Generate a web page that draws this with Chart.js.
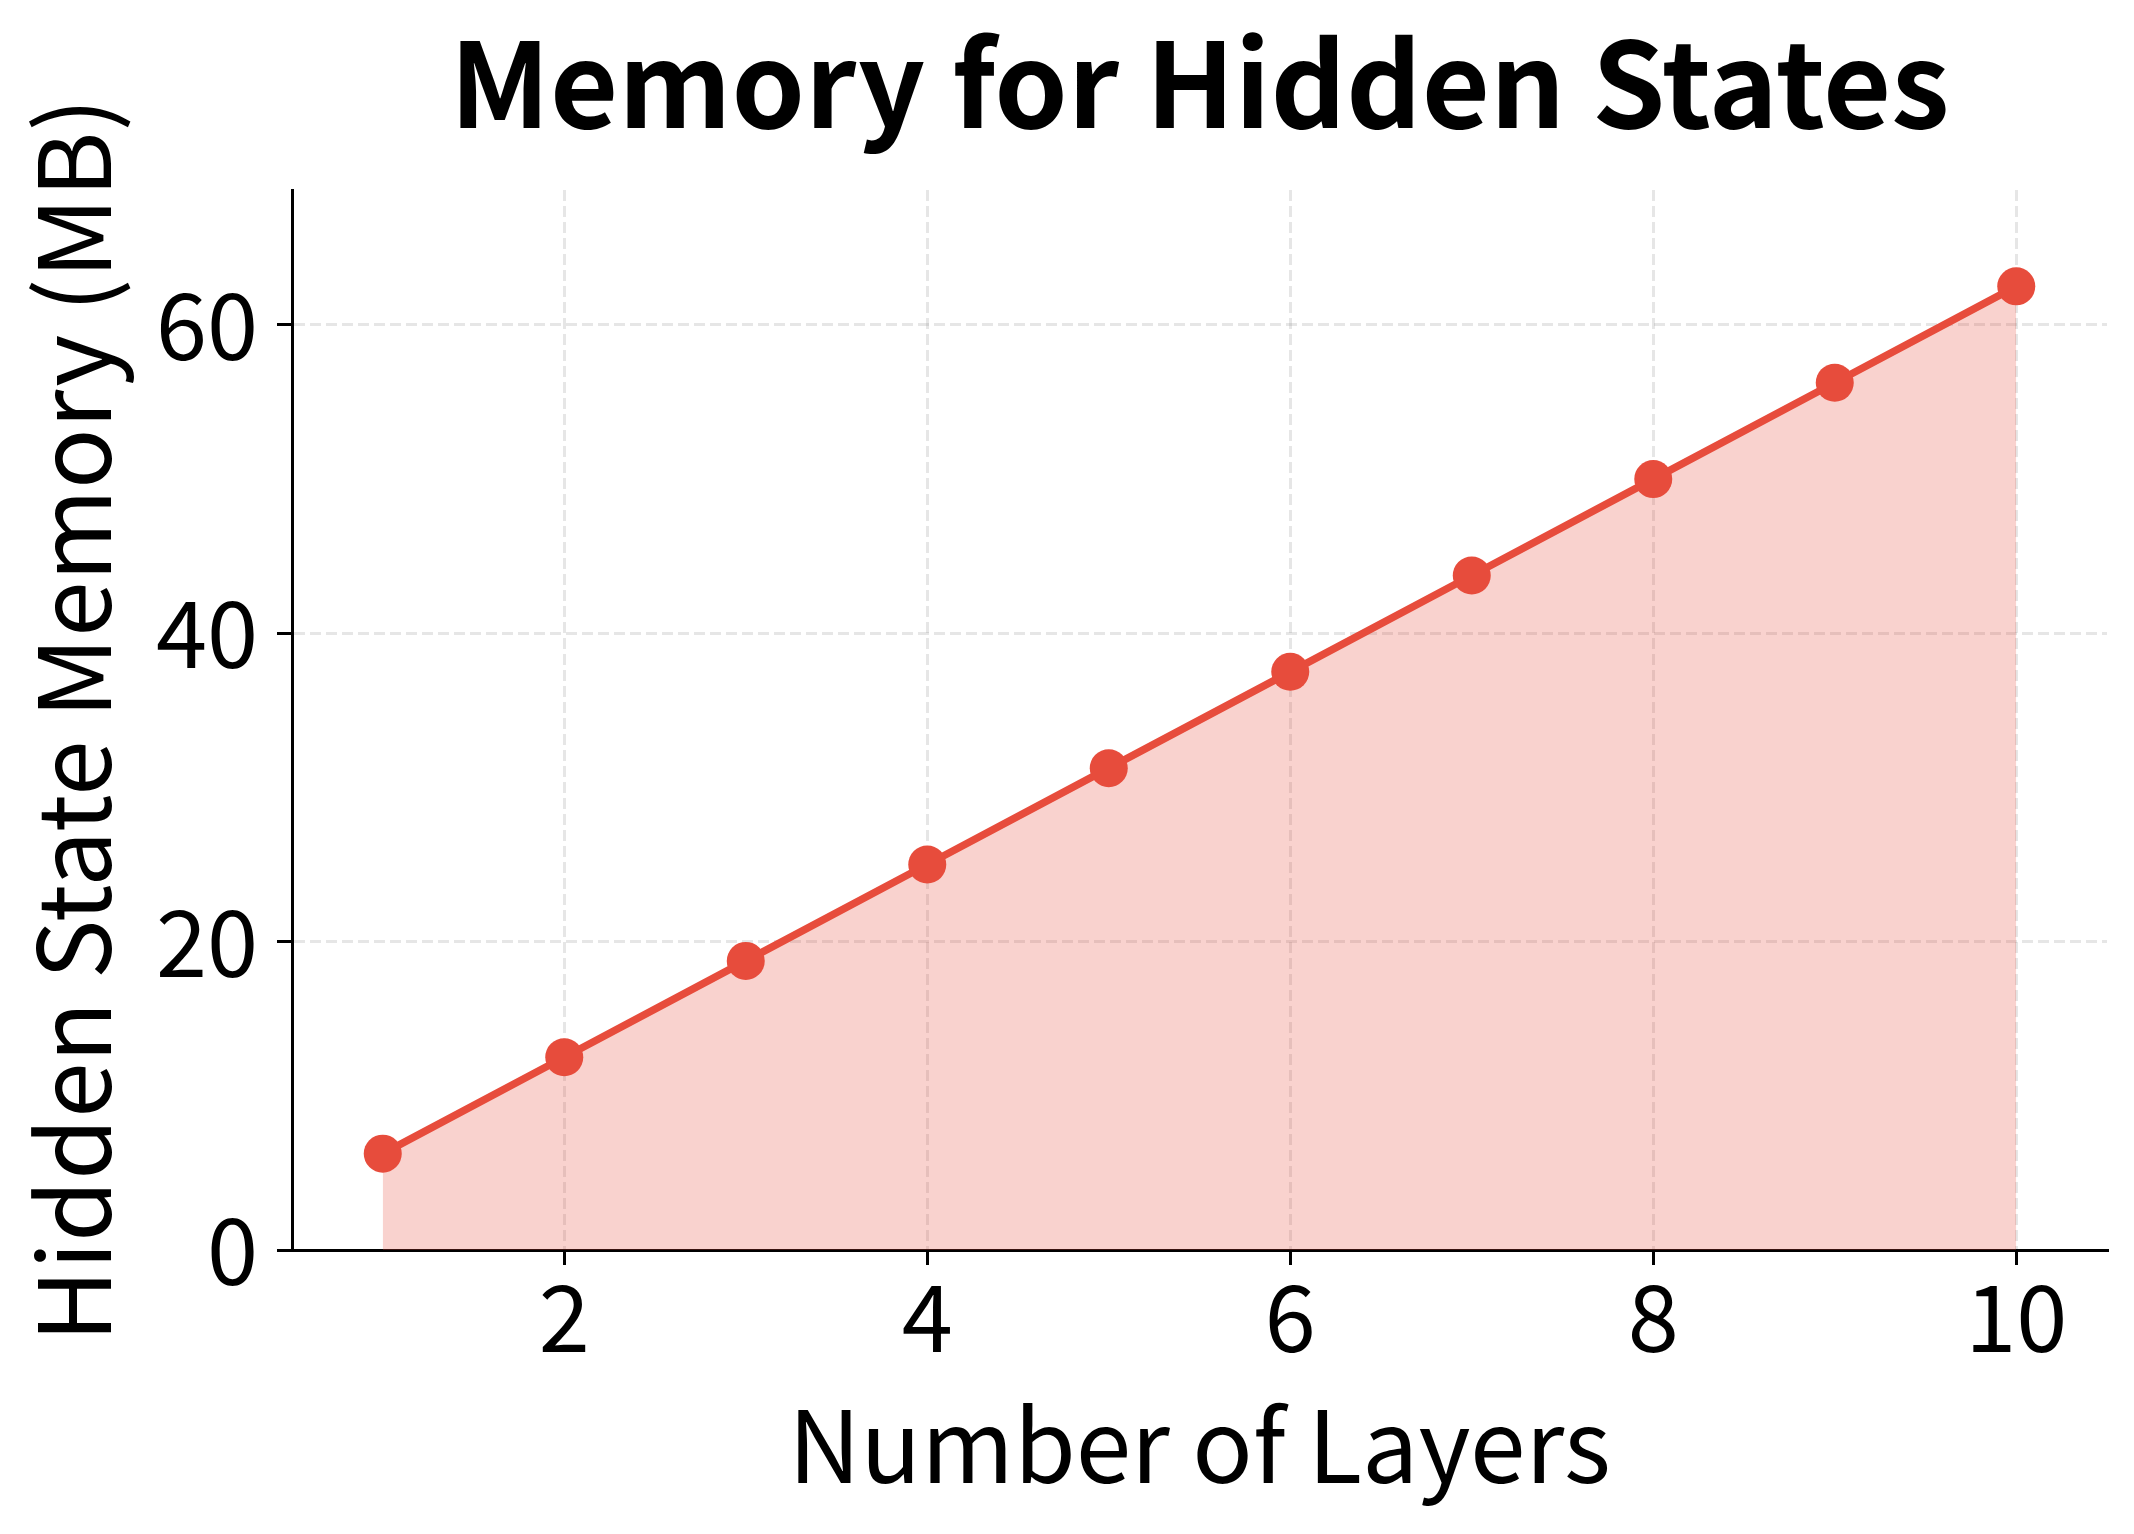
<!DOCTYPE html>
<html>
<head>
<meta charset="utf-8">
<script src="https://cdn.jsdelivr.net/npm/chart.js@4/dist/chart.umd.min.js"></script>
<style>
  html, body { margin: 0; padding: 0; background: #ffffff; }
  #chart { display: block; }
</style>
</head>
<body>
<canvas id="chart" width="2134" height="1534"></canvas>
<script>
// values
var layers = [1, 2, 3, 4, 5, 6, 7, 8, 9, 10];
var memoryMB = [6.25, 12.5, 18.75, 25, 31.25, 37.5, 43.75, 50, 56.25, 62.5];
var xTicks = [2, 4, 6, 8, 10];
var yTicks = [0, 20, 40, 60];

var FONT = "'Noto Sans CJK JP', 'Noto Sans', sans-serif";
var RED = '#e74c3c';

function tickSetter(values){
    return function(scale){
        scale.ticks = values.map(function(v){ return {value: v}; });
    };
}

var points = layers.map(function(l, i){ return {x: l, y: memoryMB[i]}; });

var ctx = document.getElementById('chart').getContext('2d');

var chart = new Chart(ctx, {
    type: 'line',
    data: {
        datasets: [{
            label: 'Hidden State Memory',
            data: points,
            borderColor: RED,
            borderWidth: 7.5,
            backgroundColor: 'rgba(231, 76, 60, 0.25)',
            fill: 'origin',
            tension: 0,
            pointRadius: 19,
            pointHoverRadius: 19,
            pointBackgroundColor: RED,
            pointBorderColor: RED,
            pointBorderWidth: 0
        }]
    },
    options: {
        responsive: false,
        animation: false,
        devicePixelRatio: 1,
        events: [],
        layout: { padding: { left: 0, right: 27, top: 0, bottom: 0 } },
        plugins: {
            legend: { display: false },
            tooltip: { enabled: false },
            title: {
                display: true,
                text: 'Memory for Hidden States',
                color: '#000000',
                fullSize: false,
                font: { family: FONT, size: 117.5, weight: 'bold' },
                padding: { top: 13, bottom: 36 }
            }
        },
        scales: {
            x: {
                type: 'linear',
                min: 0.5,
                max: 10.5,
                afterBuildTicks: tickSetter(xTicks),
                afterFit: function(scale){ scale.height = 284; },
                border: { display: true, color: '#000000', width: 3, dash: [11, 5] },
                grid: {
                    display: true,
                    color: 'rgba(128, 128, 128, 0.2)',
                    lineWidth: 3,
                    drawTicks: true,
                    tickLength: 15,
                    tickColor: '#000000',
                    tickWidth: 3,
                    tickBorderDash: []
                },
                ticks: {
                    color: '#000000',
                    font: { family: FONT, size: 92 },
                    padding: -3,
                    maxRotation: 0,
                    autoSkip: false
                },
                title: {
                    display: true,
                    text: 'Number of Layers',
                    color: '#000000',
                    font: { family: FONT, size: 100 },
                    padding: { top: 0, bottom: 29 }
                }
            },
            y: {
                type: 'linear',
                min: 0,
                max: 68.75,
                afterBuildTicks: tickSetter(yTicks),
                afterFit: function(scale){ scale.width = 292; },
                border: { display: true, color: '#000000', width: 3, dash: [11, 5] },
                grid: {
                    display: true,
                    color: 'rgba(128, 128, 128, 0.2)',
                    lineWidth: 3,
                    drawTicks: true,
                    tickLength: 15,
                    tickColor: '#000000',
                    tickWidth: 3,
                    tickBorderDash: []
                },
                ticks: {
                    color: '#000000',
                    font: { family: FONT, size: 92 },
                    padding: 19,
                    autoSkip: false
                },
                title: {
                    display: true,
                    text: 'Hidden State Memory (MB)',
                    color: '#000000',
                    font: { family: FONT, size: 100 },
                    padding: { top: 13, bottom: 0 }
                }
            }
        }
    }
});
</script>
</body>
</html>
